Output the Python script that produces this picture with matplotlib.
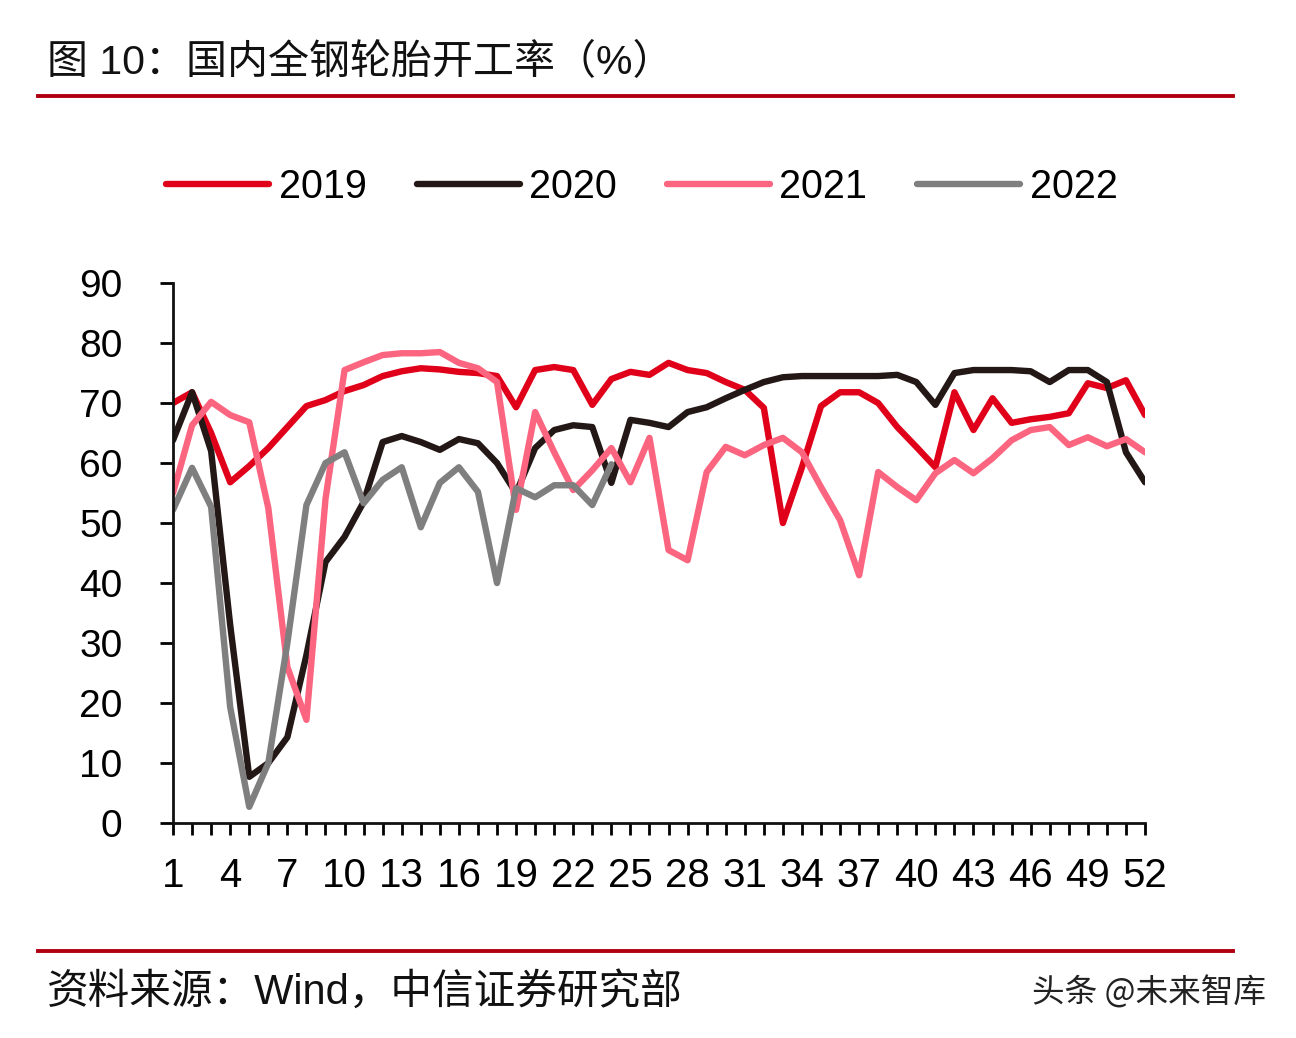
import numpy as np
import matplotlib.pyplot as plt

# 国内全钢轮胎开工率（%），按周
weeks = np.arange(1, 53)

y2019 = [70, 71.8, 65, 56.8, 59.5, 62.5, 66, 69.5, 70.5, 72, 73, 74.5, 75.3, 75.8, 75.6, 75.2, 75, 74.5,
         69.3, 75.5, 76, 75.5, 69.7, 74, 75.2, 74.7, 76.7, 75.5, 75, 73.5, 72.2, 69.2, 50, 59.3, 69.5,
         71.8, 71.8, 70, 66, 62.7, 59.3, 71.8, 65.5, 70.8, 66.7, 67.3, 67.7, 68.3, 73.3, 72.5, 73.8, 68]

y2020 = [63.8, 71.8, 62, 33, 7.7, 10, 14.3, 28, 43.5, 47.7, 53.5, 63.5, 64.5, 63.5, 62.2, 64, 63.3, 60,
         55, 62.5, 65.5, 66.3, 66, 56.7, 67.2, 66.7, 66, 68.5, 69.3, 70.8, 72.2, 73.5, 74.3, 74.5, 74.5,
         74.5, 74.5, 74.5, 74.7, 73.5, 69.7, 75, 75.5, 75.5, 75.5, 75.3, 73.5, 75.5, 75.5, 73.5, 61.8, 56.8]

y2021 = [55, 66.3, 70.2, 68, 66.8, 52.5, 26, 17.2, 54, 75.5, 76.8, 78, 78.3, 78.3, 78.5, 76.7, 75.8, 73.5,
         52.2, 68.5, 61.8, 55.5, 58.8, 62.5, 56.8, 64.2, 45.5, 43.8, 58.5, 62.7, 61.3, 63, 64.2, 61.8, 56,
         50.5, 41.3, 58.5, 56, 53.8, 58.3, 60.5, 58.3, 60.8, 63.8, 65.5, 66, 63, 64.3, 62.8, 64, 61.8]

y2022 = [52.2, 59.2, 52.7, 19.3, 2.7, 10, 30, 53, 60, 61.8, 53.3, 57.2, 59.3, 49.3, 56.7, 59.3, 55.2, 40,
         55.8, 54.3, 56.3, 56.3, 53, 59.8]

series = [("2019", y2019, "#E0001A"),
          ("2020", y2020, "#231815"),
          ("2021", y2021, "#FB6580"),
          ("2022", y2022, "#7F7F7F")]

num_font = "Liberation Sans"
cjk = ["Liberation Sans", "Noto Sans CJK SC", "DejaVu Sans"]

fig = plt.figure(figsize=(12.96, 10.38), dpi=100)
ax = fig.add_axes([0.1335, 0.2071, 0.75, 0.5202])

for name, vals, col in series:
    ax.plot(weeks[:len(vals)], vals, color=col, linewidth=4.6, label=name,
            solid_joinstyle="round", solid_capstyle="round")

ax.set_xlim(1, 52)
ax.set_ylim(0, 90)
ax.set_yticks(np.arange(0, 91, 10))
ax.set_xticks(weeks, minor=True)
ax.set_xticks(np.arange(1, 53, 3))
for s in ["top", "right"]:
    ax.spines[s].set_visible(False)
for s in ["left", "bottom"]:
    ax.spines[s].set_linewidth(2)
    ax.spines[s].set_color("#111111")
ax.tick_params(axis="y", which="major", length=9.4, width=2, labelsize=28, pad=27)
ax.tick_params(axis="x", which="both", length=8.6, width=2, labelsize=29, pad=16)
for lab in ax.get_xticklabels() + ax.get_yticklabels():
    lab.set_fontfamily(num_font)

leg = ax.legend(loc="center", bbox_to_anchor=(0.4825, 1.178), ncol=4, frameon=False,
                prop={"family": num_font, "size": 28.5}, handlelength=2.6,
                handletextpad=0.25, columnspacing=1.25)

# 标题与来源
fig.text(47 / 1296, 1 - 63 / 1038, "图 10：国内全钢轮胎开工率（%）", fontsize=29.5,
         family=cjk, va="center", ha="left", color="#111111")
fig.add_artist(plt.Line2D([38 / 1296, 1233 / 1296], [1 - 96 / 1038] * 2,
                          color="#B00010", linewidth=2.8))
fig.add_artist(plt.Line2D([38 / 1296, 1233 / 1296], [1 - 951 / 1038] * 2,
                          color="#B00010", linewidth=2.8))
fig.text(47 / 1296, 1 - 993 / 1038, "资料来源：Wind，中信证券研究部", fontsize=30,
         family=cjk, va="center", ha="left", color="#111111")
fig.text(1266 / 1296, 1 - 993 / 1038, "头条 @未来智库", fontsize=23.5,
         family=["Noto Sans CJK SC", "DejaVu Sans"], va="center", ha="right", color="#222222")

fig.savefig("out.png", dpi=100)
